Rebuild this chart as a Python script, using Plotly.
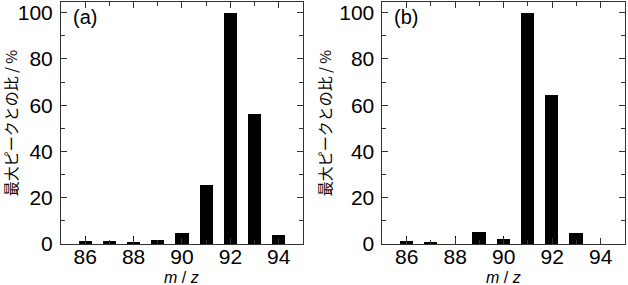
import plotly.graph_objects as go

mz = [86, 87, 88, 89, 90, 91, 92, 93, 94]
ratio_a = [1.3, 1.4, 0.9, 1.7, 4.7, 25.6, 100, 56.4, 3.9]
err_a = [2.0, 0, 2.4, 0, 0, 0, 0, 0, 0]
ratio_b = [1.4, 1.0, 0.0, 5.2, 2.3, 100, 64.5, 4.7, 0.0]
err_b = [1.9, 0.9, 3.4, 0, 1.1, 0, 0, 0, 0]
panel_labels = ["(a)", "(b)"]
x_ticks = [86, 88, 90, 92, 94]
y_ticks = [0, 20, 40, 60, 80, 100]

FONT = "Liberation Sans, Arial, sans-serif"
AXC = "#333333"

fig = go.Figure()
for i, (vals, errs) in enumerate([(ratio_a, err_a), (ratio_b, err_b)]):
    fig.add_trace(go.Bar(
        x=mz, y=vals, width=0.55,
        marker=dict(color="black", line=dict(width=0)),
        error_y=dict(type="data", array=errs, visible=True, color="black",
                     thickness=1, width=0),
        xaxis="x" if i == 0 else "x2", yaxis="y" if i == 0 else "y2",
        showlegend=False,
    ))

common_x = dict(range=[85, 95], tickvals=x_ticks, ticks="inside", ticklen=6,
                tickwidth=1, tickcolor=AXC, showline=True, linecolor=AXC,
                linewidth=1, mirror="ticks", showgrid=False, zeroline=False,
                ticklabelstandoff=-6,
                minor=dict(dtick=1, ticks="inside", ticklen=4, tickcolor=AXC,
                           showgrid=False),
                tickfont=dict(size=21, color="black", family=FONT))
common_y = dict(range=[0, 104.6], tickvals=y_ticks, ticks="inside", ticklen=6,
                tickwidth=1, tickcolor=AXC, showline=True, linecolor=AXC,
                linewidth=1, mirror="ticks", showgrid=False, zeroline=False,
                ticklabelstandoff=3,
                minor=dict(dtick=10, ticks="inside", ticklen=4, tickcolor=AXC,
                           showgrid=False),
                tickfont=dict(size=21, color="black", family=FONT),
                title=dict(text="最大ピークとの比 / %", standoff=3,
                           font=dict(size=15, color="black",
                                     family="Noto Sans CJK JP, " + FONT)))

fig.update_layout(
    width=628, height=285,
    margin=dict(l=61, r=3, t=2, b=41),
    plot_bgcolor="white", paper_bgcolor="white",
    xaxis=dict(domain=[0, 0.429], anchor="y", **common_x),
    yaxis=dict(domain=[0, 1], anchor="x", **common_y),
    xaxis2=dict(domain=[0.570, 1], anchor="y2", **common_x),
    yaxis2=dict(domain=[0, 1], anchor="x2", **common_y),
    bargap=0,
)
for i, lab in enumerate(panel_labels):
    xr = "x domain" if i == 0 else "x2 domain"
    fig.add_annotation(text=lab, xref=xr, yref="paper", x=0.04, y=0.99,
                       xanchor="left", yanchor="top", showarrow=False,
                       font=dict(size=20, color="black", family=FONT))
    fig.add_annotation(text="<i>m</i> / <i>z</i>", xref=xr, yref="paper",
                       x=0.5, y=-0.14, xanchor="center", yanchor="middle",
                       showarrow=False,
                       font=dict(size=16, color="black", family=FONT))

fig.write_html("out.html")
